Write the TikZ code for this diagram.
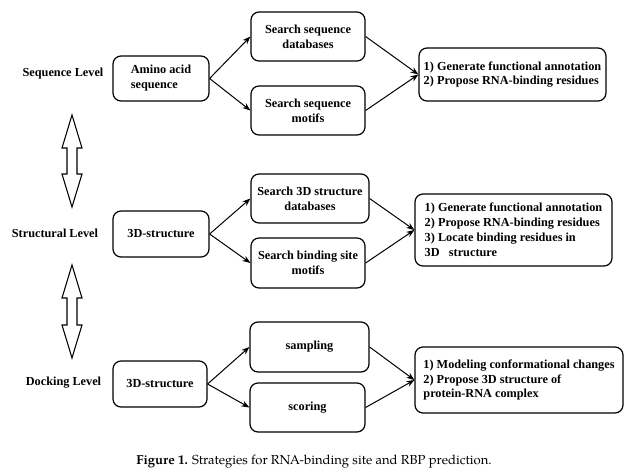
\documentclass[tikz,border=0pt]{standalone}
\usepackage{fontspec}
\setmainfont{Liberation Serif}
\newfontfamily\capfont{TeX Gyre Pagella}
\usepackage{tikz}
\usetikzlibrary{arrows.meta, positioning}

\newcommand\diagfont{\fontsize{9.2}{11.2}\selectfont\bfseries}

\tikzset{
    % hollow double arrow between two levels
    pics/updown/.style={code={
        \draw[line width=0.8pt, fill=white]
            (0,-#1/2) -- (10,-#1/2+33) -- (5,-#1/2+33) -- (5,#1/2-33) -- (10,#1/2-33)
            -- (0,#1/2) -- (-10,#1/2-33) -- (-5,#1/2-33) -- (-5,-#1/2+33) -- (-10,-#1/2+33) -- cycle;
    }}
}

\begin{document}
\begin{tikzpicture}[
        x=0.75pt, y=-0.75pt,
        font=\diagfont,
        >={Stealth[length=6pt, width=4.5pt]},
        % boxes of the three levels
        procbox/.style={
            rectangle, draw, line width=0.9pt, rounded corners=6pt,
            align=center, inner sep=2pt
        },
        resbox/.style={procbox, align=left},
        levellabel/.style={inner sep=0pt},
        flow/.style={->, line width=0.75pt}
    ]
    \useasboundingbox (0,0) rectangle (636,472);

    % ==========================
    % SEQUENCE LEVEL
    % ==========================
    \node[levellabel] (lvSeq) at (63, 74) {Sequence Level};
    \node[procbox, align=left, minimum width=72pt, minimum height=33.75pt] (amino) at (161, 78.5) {Amino acid\\sequence};
    \node[procbox, minimum width=85.5pt, minimum height=36.75pt] (seqDb)  at (308, 36.5)  {Search sequence\\databases};
    \node[procbox, minimum width=85.5pt, minimum height=36.75pt] (seqMot) at (308, 110.5) {Search sequence\\motifs};
    \node[resbox, minimum width=140.25pt, minimum height=39.75pt] (resSeq) at (512.5, 74.5)
        {1) Generate functional annotation\\2) Propose RNA-binding residues};

    \draw[flow] (amino.east) -- (seqDb.west);
    \draw[flow] (amino.east) -- (seqMot.west);
    \draw[flow] (seqDb.east) -- (resSeq.west);
    \draw[flow] (seqMot.east) -- (resSeq.west);

    % ==========================
    % STRUCTURAL LEVEL
    % ==========================
    \node[levellabel] (lvStr) at (55, 233) {Structural Level};
    \node[procbox, minimum width=72pt, minimum height=34.5pt] (strIn) at (161, 234) {3D-structure};
    \node[procbox, minimum width=88.5pt, minimum height=36.75pt] (strDb)  at (310, 198.5) {Search 3D structure\\databases};
    \node[procbox, minimum width=85.5pt, minimum height=37.5pt] (strMot) at (308, 263) {Search binding site\\motifs};
    \node[resbox, minimum width=147.75pt, minimum height=54pt] (resStr) at (513.5, 230)
        {1) Generate functional annotation\\2) Propose RNA-binding residues\\3) Locate binding residues in\\3D~~~structure};

    \draw[flow] (strIn.east) -- (strDb.west);
    \draw[flow] (strIn.east) -- (strMot.west);
    \draw[flow] (strDb.east) -- (resStr.west);
    \draw[flow] (strMot.east) -- (resStr.west);

    % ==========================
    % DOCKING LEVEL
    % ==========================
    \node[levellabel] (lvDock) at (63.5, 383) {Docking Level};
    \node[procbox, minimum width=70.5pt, minimum height=34.5pt] (dockIn) at (160, 384) {3D-structure};
    \node[procbox, minimum width=89.25pt, minimum height=37.5pt] (samp) at (309.5, 347) {sampling};
    \node[procbox, minimum width=86.25pt, minimum height=36.75pt] (scor) at (307.5, 407.5) {scoring};
    \node[resbox, minimum width=156pt, minimum height=49.5pt] (resDock) at (519, 380)
        {1) Modeling conformational changes\\2) Propose 3D structure of\\protein-RNA complex};

    \draw[flow] (dockIn.east) -- (samp.west);
    \draw[flow] (dockIn.east) -- (scor.west);
    \draw[flow] (samp.east) -- (resDock.west);
    \draw[flow] (scor.east) -- (resDock.west);

    % ==========================
    % LEVEL TRANSITIONS
    % ==========================
    \pic at (72, 161) {updown=92};
    \pic at (72, 311.5) {updown=93};

    % caption
    \node[font=\capfont\fontsize{9.8}{12}\selectfont] (caption) at (314, 462)
        {\textbf{Figure 1.} Strategies for RNA-binding site and RBP prediction.};
\end{tikzpicture}
\end{document}
